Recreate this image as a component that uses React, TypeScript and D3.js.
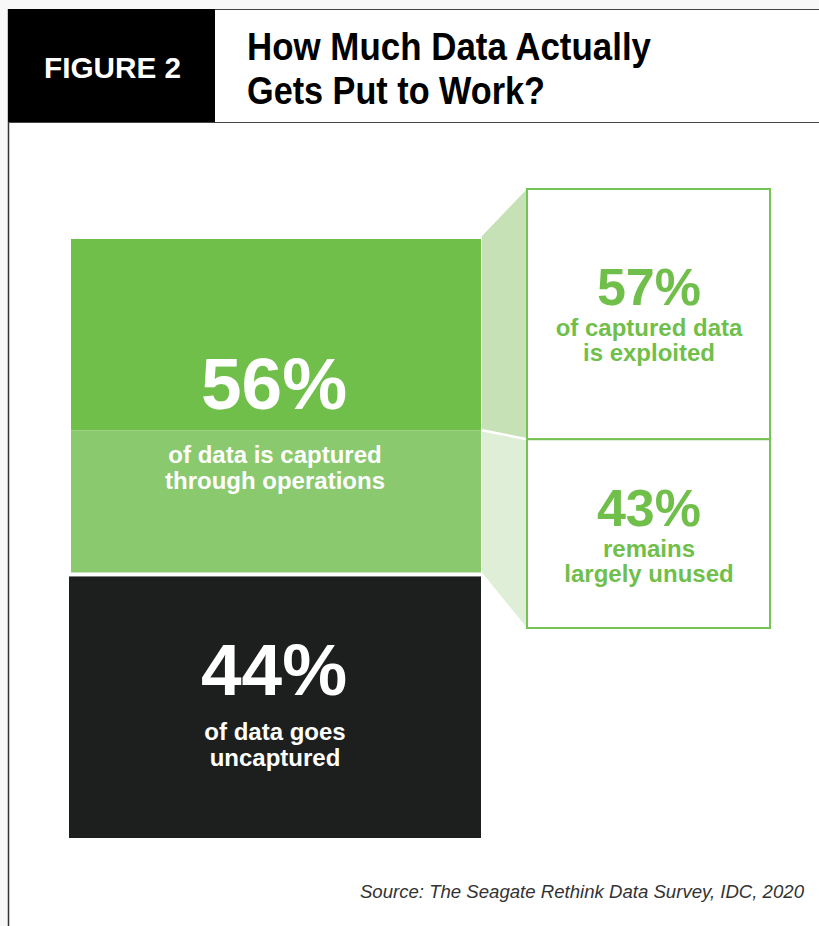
import React from "react";
import * as d3 from "d3";

const W = 819;
const H = 926;

// Data
const leftCategories = ["captured", "uncaptured"];
const leftValues = [56, 44];
const leftBigLabels = ["56%", "44%"];
const leftSubLabels = [
  ["of data is captured", "through operations"],
  ["of data goes", "uncaptured"],
];
const rightCategories = ["exploited", "unused"];
const rightValues = [57, 43];
const rightBigLabels = ["57%", "43%"];
const rightSubLabels = [
  ["of captured data", "is exploited"],
  ["remains", "largely unused"],
];
const figureLabel = "FIGURE 2";
const titleLines = ["How Much Data Actually", "Gets Put to Work?"];
const sourceText = "Source: The Seagate Rethink Data Survey, IDC, 2020";

const FONT = "'Liberation Sans', Arial, Helvetica, sans-serif";
const GREEN = "#70bf4b";
const GREEN_LIGHT = "#8bc96f";
const DARK = "#1d1f1e";
const TRAP_TOP = "#c6e1b5";
const TRAP_BOT = "#dfeed7";
const BORDER = "#74c354";

export default function App() {
  const yLeft = d3.scaleLinear().domain([0, 100]).range([239, 838]);
  const yRight = d3.scaleLinear().domain([0, 100]).range([189, 628]);
  const leftX0 = 70;
  const leftX1 = 481;
  const trapX0 = 482;
  const rightX0 = 527;
  const rightX1 = 770;
  const gap = 2;

  const cum = d3.cumsum(leftValues);
  const capTop = yLeft(0);
  const capBot = yLeft(cum[0]);
  const yCap = d3.scaleLinear().domain([0, 100]).range([capTop, capBot]);
  const splitY = yCap(rightValues[0]);

  const rcum = d3.cumsum(rightValues);
  const rTop = yRight(0);
  const rMid = yRight(rcum[0]);
  const rBot = yRight(rcum[1]);

  const line = d3.line();

  const leftCenter = 274;
  const rightCenter = 649;

  const titleWidths = [404, 298];

  return (
    <svg
      width={W}
      height={H}
      style={{ position: "absolute", left: 0, top: 0, background: "#fff" }}
      fontFamily={FONT}
    >
      <rect x={0} y={0} width={W} height={9} fill="#f8f8f8" />
      <rect x={0} y={0} width={8} height={H} fill="#f8f8f8" />
      <rect x={8} y={9} width={W - 8} height={H - 9} fill="#fff" />
      {/* frame */}
      <line x1={8} x2={W} y1={9.5} y2={9.5} stroke="#444" strokeWidth={1} />
      <line x1={8.5} x2={8.5} y1={9} y2={H} stroke="#333" strokeWidth={1.5} />
      <line x1={8} x2={W} y1={122.5} y2={122.5} stroke="#444" strokeWidth={1} />
      <rect x={8} y={9} width={207} height={113} fill="#000" />
      <text x={44} y={78} fill="#fff" fontSize={30} fontWeight="bold" textLength={137} lengthAdjust="spacingAndGlyphs">
        {figureLabel}
      </text>
      {titleLines.map((t, i) => (
        <text
          key={i}
          x={247}
          y={60 + i * 44}
          fill="#000"
          fontSize={39}
          fontWeight="bold"
          textLength={titleWidths[i]}
          lengthAdjust="spacingAndGlyphs"
        >
          {t}
        </text>
      ))}

      {/* left blocks */}
      <rect x={leftX0 + 1} y={capTop} width={leftX1 - leftX0 - 1} height={splitY - capTop} fill={GREEN} />
      <rect x={leftX0 + 1} y={splitY} width={leftX1 - leftX0 - 1} height={capBot - splitY - gap} fill={GREEN_LIGHT} />
      <rect x={leftX0 - 1} y={capBot + gap} width={leftX1 - leftX0 + 1} height={yLeft(cum[1]) - capBot - gap} fill={DARK} />

      {/* connecting trapezoids */}
      <path
        d={line([[trapX0, capTop - 3], [rightX0, rTop], [rightX0, rMid], [trapX0, splitY]]) + "Z"}
        fill={TRAP_TOP}
      />
      <path
        d={line([[trapX0, splitY], [rightX0, rMid], [rightX0, rBot], [trapX0, capBot - gap]]) + "Z"}
        fill={TRAP_BOT}
      />
      <line x1={trapX0} y1={splitY} x2={rightX0} y2={rMid} stroke="#fff" strokeWidth={2.5} />

      {/* right boxes */}
      <rect x={rightX0} y={rTop} width={rightX1 - rightX0} height={rMid - rTop} fill="#fff" stroke={BORDER} strokeWidth={2} />
      <rect x={rightX0} y={rMid} width={rightX1 - rightX0} height={rBot - rMid} fill="#fff" stroke={BORDER} strokeWidth={2} />

      {/* left labels */}
      {leftCategories.map((c, i) => {
        const baseBig = i === 0 ? 409 : 695;
        return (
          <g key={c} fill="#fff" fontWeight="bold" textAnchor="middle">
            <text x={leftCenter} y={baseBig} fontSize={73}>
              {leftBigLabels[i]}
            </text>
            {leftSubLabels[i].map((s, j) => (
              <text key={j} x={leftCenter + 1} y={baseBig + (i === 0 ? 54 : 45) + j * 26} fontSize={24}>
                {s}
              </text>
            ))}
          </g>
        );
      })}

      {/* right labels */}
      {rightCategories.map((c, i) => {
        const baseBig = i === 0 ? 305 : 526;
        return (
          <g key={c} fill={GREEN} fontWeight="bold" textAnchor="middle">
            <text x={rightCenter} y={baseBig} fontSize={52}>
              {rightBigLabels[i]}
            </text>
            {rightSubLabels[i].map((s, j) => (
              <text key={j} x={rightCenter} y={baseBig + (i === 0 ? 31 : 31) + j * 25} fontSize={24}>
                {s}
              </text>
            ))}
          </g>
        );
      })}

      <text x={804} y={898} fill="#333" fontSize={18.6} fontStyle="italic" textAnchor="end">
        {sourceText}
      </text>
    </svg>
  );
}
